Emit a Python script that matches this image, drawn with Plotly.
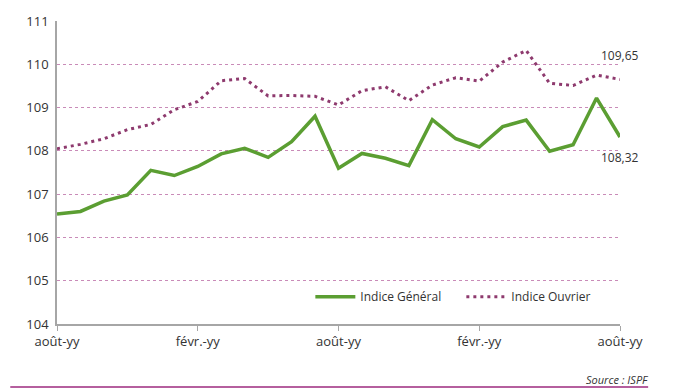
import plotly.graph_objects as go

months = list(range(25))
indice_general = [106.54, 106.60, 106.84, 106.98, 107.55, 107.43, 107.64, 107.93, 108.06, 107.85,
                  108.21, 108.80, 107.60, 107.94, 107.83, 107.66, 108.72, 108.28, 108.09, 108.56,
                  108.71, 107.99, 108.14, 109.22, 108.32]
indice_ouvrier = [108.05, 108.15, 108.28, 108.49, 108.61, 108.95, 109.14, 109.62, 109.67, 109.27,
                  109.28, 109.26, 109.06, 109.39, 109.48, 109.16, 109.52, 109.69, 109.61, 110.05,
                  110.32, 109.56, 109.51, 109.75, 109.65]
tick_positions = [0, 6, 12, 18, 24]
tick_labels = ["août-yy", "févr.-yy", "août-yy", "févr.-yy", "août-yy"]
y_ticks = [104, 105, 106, 107, 108, 109, 110, 111]

font_family = "Open Sans, Liberation Sans, sans-serif"
fig = go.Figure()
fig.add_trace(go.Scatter(x=months, y=indice_general, mode="lines", name="Indice Général",
                         line=dict(color="#5b9e32", width=3.5)))
fig.add_trace(go.Scatter(x=months, y=indice_ouvrier, mode="lines", name="Indice Ouvrier",
                         line=dict(color="#8e3a6e", width=3, dash="3px,4px")))

fig.add_annotation(x=months[-1], y=indice_ouvrier[-1], text="109,65",
                   showarrow=False, xanchor="center", yanchor="middle", yshift=24,
                   font=dict(size=12, color="#333333", family=font_family))
fig.add_annotation(x=months[-1], y=indice_general[-1], text="108,32",
                   showarrow=False, xanchor="center", yanchor="middle", yshift=-20,
                   font=dict(size=12, color="#333333", family=font_family))

fig.add_annotation(xref="paper", yref="paper", x=1.055, y=-0.183, text="<i>Source : ISPF</i>",
                   showarrow=False, xanchor="right", yanchor="middle",
                   font=dict(size=11, color="#333333", family=font_family))
fig.add_shape(type="line", xref="paper", yref="paper", x0=-0.083, x1=1.05, y0=-0.208, y1=-0.208,
              line=dict(color="#9c2a7e", width=1.5))

fig.update_layout(
    width=696, height=392,
    margin=dict(l=57, r=76, t=17, b=68),
    paper_bgcolor="white", plot_bgcolor="white",
    font=dict(family=font_family, size=13, color="#333333"),
    legend=dict(orientation="h", x=0.45, y=0.09, xanchor="left", yanchor="middle",
                bgcolor="rgba(0,0,0,0)", font=dict(size=12, color="#333333"),
                itemwidth=40, tracegroupgap=0, entrywidth=96, entrywidthmode="pixels"),
    showlegend=True,
)
fig.update_xaxes(range=[0, 24], tickvals=tick_positions, ticktext=tick_labels,
                 showgrid=False, showline=True, linecolor="#a6a6a6", linewidth=1.5,
                 ticks="outside", ticklen=5, tickcolor="#a6a6a6", zeroline=False,
                 tickfont=dict(size=13, color="#333333"))
fig.update_yaxes(range=[104, 111], tickvals=y_ticks, showgrid=True, gridcolor="#c98bb8",
                 griddash="dot", gridwidth=1, showline=True, linecolor="#a6a6a6", linewidth=1.5,
                 ticks="", zeroline=False, ticklabelstandoff=4,
                 tickfont=dict(size=13, color="#333333"))

fig.write_html("out.html", config={"displayModeBar": False},
               post_script="document.body.style.margin='0';document.body.style.overflow='hidden';")
